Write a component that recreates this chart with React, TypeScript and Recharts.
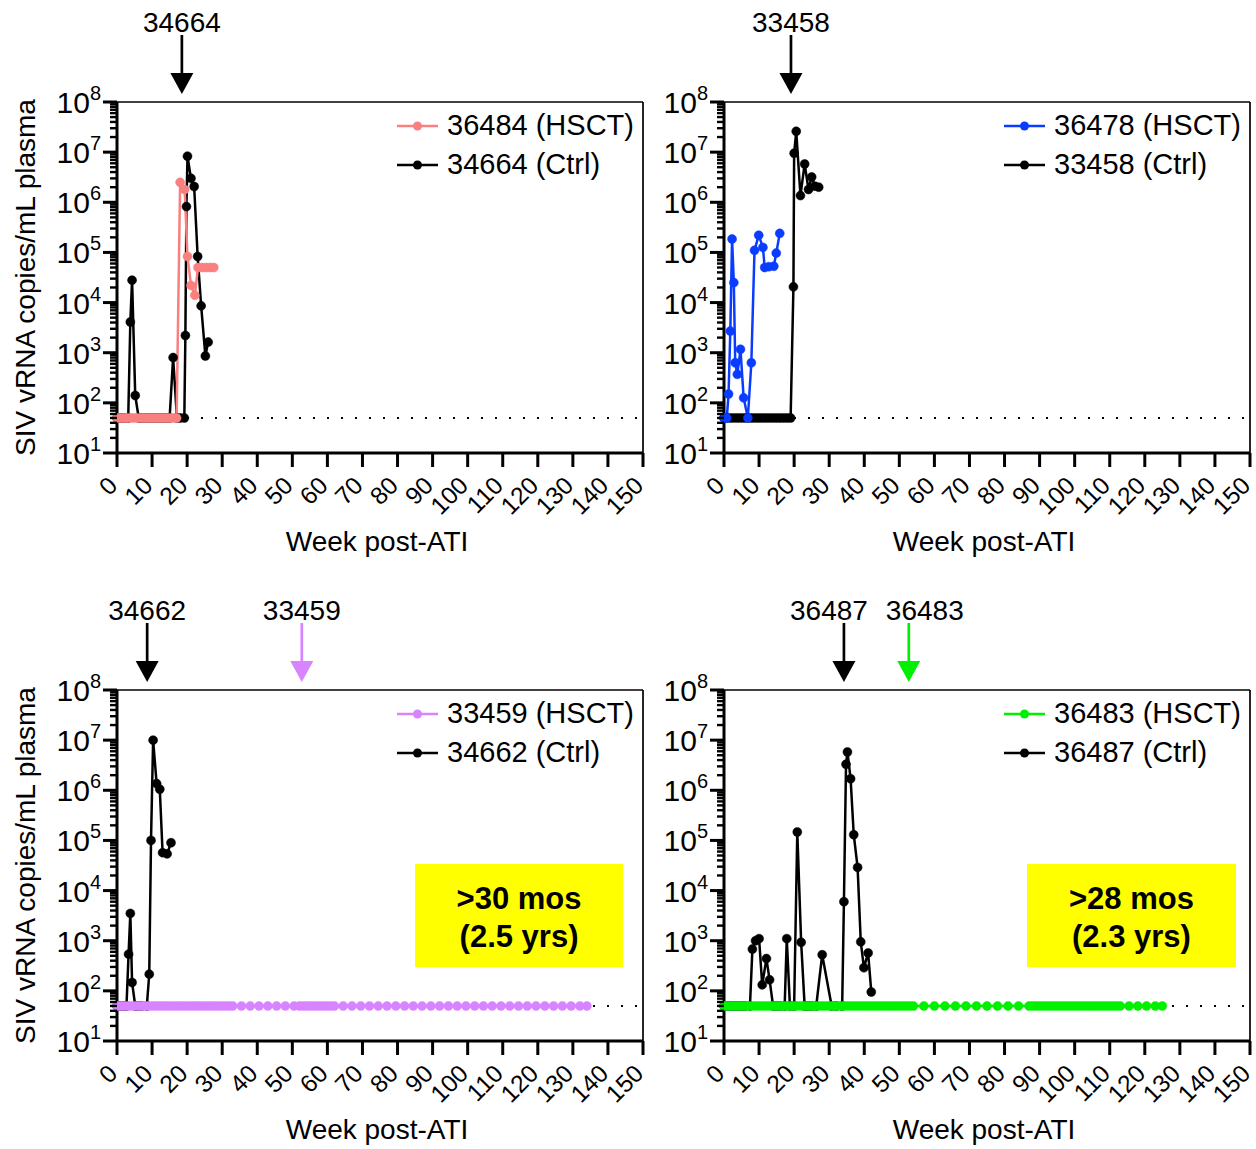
import React from 'react';
import { LineChart, Line, XAxis, YAxis, ReferenceLine, ReferenceDot, ReferenceArea } from 'recharts';

type Pt = { week: number; value: number };

const FONT = '"Liberation Sans", Arial, Helvetica, sans-serif';
const LOD = 50;

const X_TICKS = [0, 10, 20, 30, 40, 50, 60, 70, 80, 90, 100, 110, 120, 130, 140, 150];
const Y_MAJOR = [10, 100, 1000, 10000, 100000, 1000000, 10000000, 100000000];
const Y_MINOR_MULT = [2, 3, 4, 5, 6, 7, 8, 9];
const Y_TICKS = [...Y_MAJOR, ...Y_MAJOR.slice(0, -1).flatMap((d) => Y_MINOR_MULT.map((m) => m * d))];

const PINK = '#FA7F7F';
const BLUE = '#0A3CFF';
const PURPLE = '#D883FF';
const GREEN = '#00F000';
const YELLOW = '#FFFF00';

// Panel 1: 36484 (HSCT) vs 34664 (Ctrl)
const P1_HSCT: number[][] = [
  [0, 50], [1, 50], [2, 50], [3, 50], [4, 50], [5, 50], [6, 50], [7, 50], [8, 50], [9, 50],
  [10, 50], [11, 50], [12, 50], [13, 50], [14, 50], [15, 50], [16, 50], [17, 50],
  [18, 2500000], [19.3, 1800000], [20.1, 83000], [21.1, 22000], [22.2, 14000], [23.1, 50000],
  [24.3, 50000], [25.5, 50000], [26.6, 50000], [27.6, 50000],
];
const P1_CTRL: number[][] = [
  [0, 50], [1, 50], [2, 50], [3.2, 50], [3.8, 4100], [4.3, 28000], [5.2, 140], [6.2, 50], [7, 50],
  [8, 50], [9, 50], [10, 50], [11, 50], [12, 50], [13, 50], [14, 50], [15, 50], [16, 800], [17.1, 50],
  [18, 50], [19.2, 50], [19.5, 2200], [19.8, 820000], [20.1, 8300000], [21.1, 3000000], [22, 2060000],
  [23, 83000], [24, 8600], [25.2, 860], [26, 1630],
];

// Panel 2: 36478 (HSCT) vs 33458 (Ctrl)
const P2_HSCT: number[][] = [
  [0, 50], [0.8, 50], [1.3, 150], [1.8, 2700], [2.3, 185000], [2.8, 25000], [3.2, 630], [3.8, 370],
  [4.7, 1170], [5.6, 126], [6.8, 50], [7.8, 630], [8.7, 110000], [9.9, 220000], [11.1, 126000],
  [11.6, 50000], [12.8, 52000], [14.2, 53000], [14.9, 97000], [15.9, 240000],
];
const P2_CTRL: number[][] = [
  [0, 50], [1, 50], [2, 50], [3, 50], [4, 50], [5, 50], [6, 50], [7, 50], [8, 50], [9, 50], [10, 50],
  [11, 50], [12, 50], [13, 50], [14, 50], [15, 50], [16, 50], [17, 50], [18, 50], [19, 50],
  [19.8, 20600], [20, 9500000], [20.6, 26000000], [21.8, 1360000], [23, 5800000], [24.1, 1800000],
  [25, 3200000], [25.9, 2100000], [27, 2000000],
];

// Panel 3: 33459 (HSCT) vs 34662 (Ctrl)
const P3_HSCT_WEEKS = [
  0, 1, 2, 3, 4, 5, 6, 7, 8, 9, 10, 11, 12, 13, 14, 15, 16, 17, 18, 19, 20, 21, 22, 23, 24, 25, 26, 27,
  28, 29, 30, 31, 32, 33, 35.5, 38, 40.5, 43, 45.5, 48, 50.5, 52, 53, 54, 55, 56, 57, 58, 59, 60, 61, 62,
  64.5, 67, 69.5, 72, 74.5, 77, 79.5, 82, 84.5, 87, 89.5, 92, 94.5, 97, 99.5, 102, 104.5, 107, 109.5,
  112, 114.5, 117, 119.5, 122, 124.5, 127, 129.5, 132, 134,
];
const P3_CTRL: number[][] = [
  [0, 50], [1, 50], [2, 50], [2.7, 50], [3.3, 540], [3.8, 3500], [4.3, 147], [5.2, 50], [6, 50], [7, 50],
  [8.5, 50], [9.2, 215], [9.7, 100000], [10.3, 10000000], [11.3, 1360000], [12.2, 1050000],
  [13, 57000], [14.3, 54000], [15.4, 90000],
];

// Panel 4: 36483 (HSCT) vs 36487 (Ctrl)
const P4_HSCT_WEEKS = [
  0, 1, 2, 3, 4, 5, 6, 7, 8, 9, 10, 11, 12, 13, 14, 15, 16, 17, 18, 19, 20, 21, 22, 23, 24, 25, 26, 27,
  28, 29, 30, 31, 32, 33, 34, 35, 36, 37, 38, 39, 40, 41, 42, 43, 44, 45, 46, 47, 48, 49, 50, 51, 52,
  53, 54, 57, 60, 63, 66, 69, 72, 75, 78, 81, 84, 87, 88, 89, 90, 91, 92, 93, 94, 95, 96, 97, 98, 99,
  100, 101, 102, 103, 104, 105, 106, 107, 108, 109, 110, 111, 112, 113, 115.5, 118, 120.5, 123, 125,
];
const P4_CTRL: number[][] = [
  [0, 50], [1, 50], [2, 50], [3, 50], [4, 50], [5, 50], [6, 50], [7.4, 50], [8.1, 680], [9, 1000],
  [10, 1100], [10.9, 132], [12.1, 440], [13, 166], [14, 50], [15, 50], [16, 50], [17.3, 50],
  [17.9, 1100], [18.8, 50], [20, 50], [20.9, 147000], [22, 930], [23, 50], [24, 50], [25, 50],
  [26.3, 50], [28, 525], [30.7, 50], [32, 50], [33.7, 50], [34.2, 6000], [34.8, 3300000],
  [35.2, 5800000], [36.1, 1700000], [37, 130000], [38.1, 29000], [39, 950], [39.9, 290], [41.1, 570],
  [42, 95],
];

const toPts = (arr: number[][]): Pt[] => arr.map(([week, value]) => ({ week, value }));
const lodPts = (weeks: number[]): Pt[] => weeks.map((week) => ({ week, value: LOD }));

const W = 662;
const H = 560;
const PLOT_TOP = 102;
const PLOT_H = 351;

const YTick = (props: any) => {
  const { x, y, payload } = props;
  const v = payload.value as number;
  const lg = Math.log10(v);
  const exp = Math.round(lg);
  const major = Math.abs(lg - exp) < 1e-6;
  return (
    <g>
      <line x1={x - (major ? 14 : 7)} x2={x} y1={y} y2={y} stroke="#000" strokeWidth={major ? 3 : 2.4} />
      {major && (
        <text x={x - 16} y={y + 11} textAnchor="end" fontSize={30} fontFamily={FONT} fill="#000">
          <tspan>10</tspan>
          <tspan fontSize={20} dy={-13}>{exp}</tspan>
        </text>
      )}
    </g>
  );
};

const XTick = (props: any) => {
  const { x, y, payload } = props;
  const ax = x + 2;
  const ay = y + 34;
  return (
    <g>
      <line x1={x} x2={x} y1={y} y2={y + 14} stroke="#000" strokeWidth={3} />
      <text x={ax} y={ay} transform={`rotate(-45 ${ax} ${ay})`} textAnchor="end" fontSize={24.5} fontFamily={FONT} fill="#000">
        {payload.value}
      </text>
    </g>
  );
};

const XLabel = () => (
  <text x={377} y={551} textAnchor="middle" fontSize={28} fontFamily={FONT} fill="#000">
    Week post-ATI
  </text>
);

const YLabel = () => (
  <text transform={`translate(35 ${PLOT_TOP + PLOT_H / 2}) rotate(-90)`} textAnchor="middle" fontSize={28} fontFamily={FONT} fill="#000">
    SIV vRNA copies/mL plasma
  </text>
);

const Arrow = (props: any) => {
  const { cx, cy, color, text, dx } = props;
  return (
    <g>
      <text x={cx + (dx || 0)} y={cy - 70} textAnchor="middle" fontSize={28} fontFamily={FONT} fill="#000">{text}</text>
      <line x1={cx} x2={cx} y1={cy - 67} y2={cy - 28} stroke={color} strokeWidth={2.7} />
      <polygon points={`${cx - 11.5},${cy - 29} ${cx + 11.5},${cy - 29} ${cx},${cy - 8}`} fill={color} />
    </g>
  );
};

type ArrowDef = { week: number; text: string; color: string; dx?: number };
type BoxDef = { x1: number; x2: number; y1: number; y2: number; line1: string; line2: string };

const Box = (props: any) => {
  const { x, y, width, height, line1, line2 } = props;
  return (
    <g>
      <rect x={x} y={y} width={width} height={height} fill={YELLOW} />
      <text x={x + width / 2} y={y + 45} textAnchor="middle" fontSize={31} fontWeight="bold" fontFamily={FONT} fill="#000">{line1}</text>
      <text x={x + width / 2} y={y + 83} textAnchor="middle" fontSize={31} fontWeight="bold" fontFamily={FONT} fill="#000">{line2}</text>
    </g>
  );
};

const LegendRow = ({ color, label }: { color: string; label: string }) => (
  <div style={{ display: 'flex', alignItems: 'center', height: 39 }}>
    <svg width={41} height={12} style={{ display: 'block' }}>
      <line x1={0} x2={41} y1={6} y2={6} stroke={color} strokeWidth={2.7} />
      <circle cx={20.5} cy={6} r={4.5} fill={color} />
    </svg>
    <span style={{ marginLeft: 9, fontSize: 29, fontFamily: FONT, color: '#000', whiteSpace: 'nowrap', lineHeight: '39px' }}>{label}</span>
  </div>
);

type PanelProps = {
  left: number;
  top: number;
  yLabel: boolean;
  ctrl: Pt[];
  hsct: Pt[];
  color: string;
  hsctName: string;
  ctrlName: string;
  arrows: ArrowDef[];
  box?: BoxDef;
};

function Panel({ left, top, yLabel, ctrl, hsct, color, hsctName, ctrlName, arrows, box }: PanelProps) {
  return (
    <div style={{ position: 'absolute', left, top, width: W, height: H }}>
      <LineChart width={W} height={H} margin={{ top: PLOT_TOP, right: W - 643, bottom: 7, left: 10 }}>
        <XAxis
          type="number"
          dataKey="week"
          domain={[0, 150]}
          ticks={X_TICKS}
          interval={0}
          tickSize={0}
          tickMargin={0}
          tickLine={false}
          tick={<XTick />}
          axisLine={{ stroke: '#000', strokeWidth: 3 }}
          height={100}
          label={{ content: XLabel }}
        />
        <YAxis
          type="number"
          scale="log"
          domain={[10, 100000000]}
          ticks={Y_TICKS}
          interval={0}
          tickSize={0}
          tickMargin={0}
          tickLine={false}
          tick={<YTick />}
          axisLine={{ stroke: '#000', strokeWidth: 3 }}
          width={107}
          label={yLabel ? { content: YLabel } : undefined}
        />
        {box && (
          <ReferenceArea
            x1={box.x1}
            x2={box.x2}
            y1={box.y1}
            y2={box.y2}
            ifOverflow="visible"
            shape={(p: any) => <Box {...p} line1={box.line1} line2={box.line2} />}
          />
        )}
        <ReferenceLine y={100000000} stroke="#000" strokeWidth={1.7} />
        <ReferenceLine x={150} stroke="#000" strokeWidth={1.7} />
        <ReferenceLine y={LOD} stroke="#000" strokeWidth={2} strokeDasharray="2 12" />
        <Line
          data={ctrl}
          dataKey="value"
          stroke="#000"
          strokeWidth={2.5}
          dot={{ r: 4.5, fill: '#000', stroke: '#000', strokeWidth: 0.5 }}
          activeDot={false}
          isAnimationActive={false}
        />
        <Line
          data={hsct}
          dataKey="value"
          stroke={color}
          strokeWidth={2.5}
          dot={{ r: 4.5, fill: color, stroke: color, strokeWidth: 0.5 }}
          activeDot={false}
          isAnimationActive={false}
        />
        {arrows.map((a) => (
          <ReferenceDot
            key={a.text}
            x={a.week}
            y={100000000}
            r={0}
            ifOverflow="visible"
            shape={(p: any) => <Arrow {...p} color={a.color} text={a.text} dx={a.dx} />}
          />
        ))}
      </LineChart>
      <div style={{ position: 'absolute', left: 397, top: 106 }}>
        <LegendRow color={color} label={hsctName} />
        <LegendRow color="#000" label={ctrlName} />
      </div>
    </div>
  );
}

export default function App() {
  return (
    <div style={{ position: 'absolute', left: 0, top: 0, width: 1256, height: 1149, background: '#fff', overflow: 'hidden' }}>
      <Panel
        left={0}
        top={0}
        yLabel
        ctrl={toPts(P1_CTRL)}
        hsct={toPts(P1_HSCT)}
        color={PINK}
        hsctName="36484 (HSCT)"
        ctrlName="34664 (Ctrl)"
        arrows={[{ week: 18.5, text: '34664', color: '#000' }]}
      />
      <Panel
        left={607}
        top={0}
        yLabel={false}
        ctrl={toPts(P2_CTRL)}
        hsct={toPts(P2_HSCT)}
        color={BLUE}
        hsctName="36478 (HSCT)"
        ctrlName="33458 (Ctrl)"
        arrows={[{ week: 19.1, text: '33458', color: '#000' }]}
      />
      <Panel
        left={0}
        top={588}
        yLabel
        ctrl={toPts(P3_CTRL)}
        hsct={lodPts(P3_HSCT_WEEKS)}
        color={PURPLE}
        hsctName="33459 (HSCT)"
        ctrlName="34662 (Ctrl)"
        arrows={[
          { week: 8.6, text: '34662', color: '#000' },
          { week: 52.7, text: '33459', color: PURPLE },
        ]}
        box={{ x1: 85, x2: 144.3, y1: 298, y2: 33900, line1: '>30 mos', line2: '(2.5 yrs)' }}
      />
      <Panel
        left={607}
        top={588}
        yLabel={false}
        ctrl={toPts(P4_CTRL)}
        hsct={lodPts(P4_HSCT_WEEKS)}
        color={GREEN}
        hsctName="36483 (HSCT)"
        ctrlName="36487 (Ctrl)"
        arrows={[
          { week: 34.2, text: '36487', color: '#000', dx: -15 },
          { week: 52.7, text: '36483', color: GREEN, dx: 16 },
        ]}
        box={{ x1: 86.4, x2: 146, y1: 298, y2: 33900, line1: '>28 mos', line2: '(2.3 yrs)' }}
      />
    </div>
  );
}
